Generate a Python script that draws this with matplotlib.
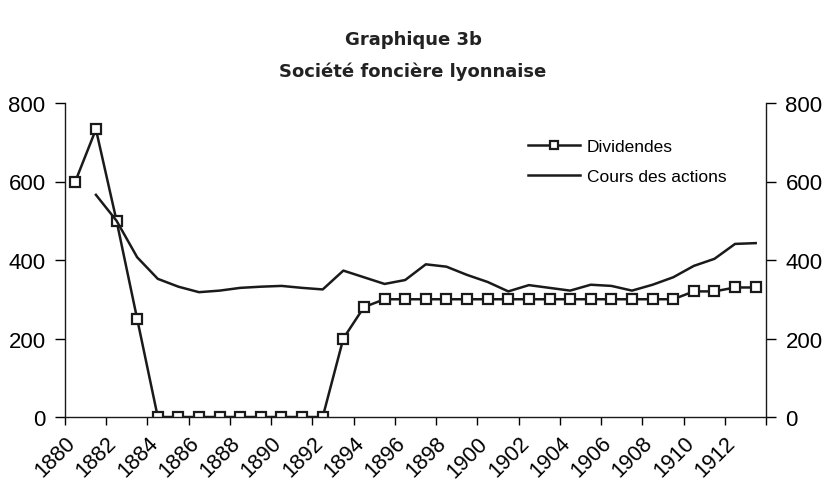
import matplotlib.pyplot as plt
import numpy as np

plt.rcParams['font.family'] = ['Liberation Sans', 'DejaVu Sans']

years = list(range(1880, 1914))
dividendes = [600, 733, 500, 250, 0, 0, 0, 0, 0, 0, 0, 0, 0,
              200, 280, 300, 300, 300, 300, 300, 300, 300, 300, 300,
              300, 300, 300, 300, 300, 300, 320, 320, 330, 330]
# cours des actions starts in 1881
cours = [None, 566, 500, 407, 352, 332, 318, 322, 329, 332, 334, 329, 325,
         373, 356, 339, 349, 389, 383, 362, 344, 320, 336, 329,
         322, 337, 334, 322, 337, 356, 385, 403, 441, 443]
tick_labels = [str(y) for y in range(1880, 1913, 2)]

fig = plt.figure(figsize=(8.26, 4.81), dpi=100)
ax = fig.add_axes([65/826, 63/481, 701/826, 314/481])

idx = np.arange(len(years))
cours_arr = np.array([np.nan if c is None else c for c in cours], dtype=float)

ax.plot(idx, dividendes, color='#1a1a1a', lw=1.8, marker='s', markersize=6.5,
        markerfacecolor='white', markeredgecolor='#1a1a1a', markeredgewidth=1.6,
        label='Dividendes')
ax.plot(idx, cours_arr, color='#1a1a1a', lw=1.8, label='Cours des actions')

ax.set_xlim(-0.5, len(years) - 0.5)
ax.set_ylim(0, 800)
ax.set_yticks([0, 200, 400, 600, 800])
ax.tick_params(axis='y', labelsize=16, direction='out', length=7, width=1, pad=7,
               labelright=True, right=True)

ticks = np.arange(-0.5, len(years), 2)
ax.set_xticks(ticks)
ax.set_xticklabels(tick_labels + [''] * (len(ticks) - len(tick_labels)),
                   rotation=45, ha='right', va='top', rotation_mode='anchor', fontsize=15.5)
ax.tick_params(axis='x', direction='out', length=6, width=1, pad=5)

ax.spines['top'].set_visible(False)
for s in ['left', 'right', 'bottom']:
    ax.spines[s].set_linewidth(1)
    ax.spines[s].set_color('#1a1a1a')

ax.legend(loc='upper left', bbox_to_anchor=(0.638, 0.935), frameon=False, fontsize=12.5,
          handlelength=3.0, labelspacing=0.85, handletextpad=0.4, markerscale=0.8)

fig.text(0.5, 1 - 40/481, 'Graphique 3b', ha='center', va='center',
         fontsize=13, fontweight='bold', family='DejaVu Sans', color='#222222')
fig.text(0.5, 1 - 72/481, 'Société foncière lyonnaise', ha='center', va='center',
         fontsize=13, fontweight='bold', family='DejaVu Sans', color='#222222')

fig.savefig('out.png', dpi=100)
